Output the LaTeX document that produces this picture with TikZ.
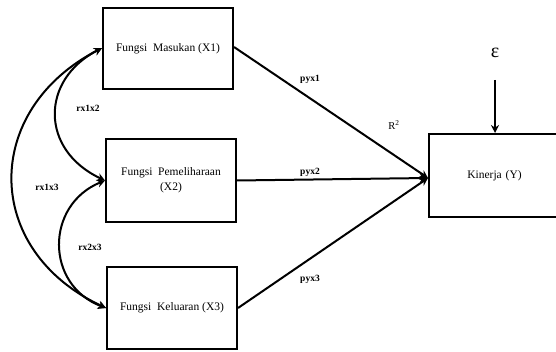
\documentclass[tikz,border=0pt]{standalone}
\usepackage{fontspec}
\setmainfont{Liberation Serif}
\usetikzlibrary{arrows.meta}
\begin{document}
\begin{tikzpicture}[x=1pt,y=-1pt,
  box/.style={draw,line width=2pt,inner sep=0pt,font=\fontsize{11.5}{15}\selectfont,align=center},
  lab/.style={font=\bfseries\fontsize{9.5}{11}\selectfont,inner sep=0pt},
  arr/.style={line width=2pt,-{Stealth[length=8pt,width=8pt]}},
  darr/.style={line width=2pt,{Stealth[length=8pt,width=8pt]}-{Stealth[length=8pt,width=8pt]}}]
\useasboundingbox (0,0) rectangle (556,352);
\node[box,minimum width=130pt,minimum height=81pt] (x1) at (168,48.5) {Fungsi~ Masukan (X1)};
\node[box,minimum width=130pt,minimum height=83pt] (x2) at (171,180.5) {Fungsi~ Pemeliharaan\\(X2)};
\node[box,minimum width=130pt,minimum height=82pt] (x3) at (172,308) {Fungsi~ Keluaran (X3)};
\node[box,minimum width=131pt,minimum height=83pt,text width=128pt] (y) at (494.5,175.5) {Kinerja (Y)\hspace*{3pt}};
\node[inner sep=0pt,font=\fontsize{20}{22}\selectfont] (eps) at (495,53) {ε};
\coordinate (epsA) at (495,80);
\coordinate (yin) at ([yshift=-2.5pt]y.west);
\coordinate (x1w) at ([yshift=0.5pt]x1.west);
\coordinate (x2w) at (x2.west);
\coordinate (x3w) at (x3.west);
\draw[arr] (epsA) -- (y.north -| epsA);
\draw[arr] ([yshift=1.5pt]x1.east) -- (yin);
\draw[arr] (x2.east) -- (yin);
\draw[arr] (x3.east) -- (yin);
\draw[darr] (x1w) .. controls (40,80) and (40,150) .. (x2w);
\draw[darr] (x1w) .. controls (-18,110) and (-18,250) .. (x3w);
\draw[darr] (x2w) .. controls (45,205) and (45,285) .. (x3w);
\node[lab] (l12) at (88,108) {rx1x2};
\node[lab] (l13) at (47,187) {rx1x3};
\node[lab] (l23) at (90,247) {rx2x3};
\node[lab] (p1) at (310,79) {pyx1};
\node[lab] (p2) at (310,172) {pyx2};
\node[lab] (p3) at (310,279) {pyx3};
\node[inner sep=0pt,font=\fontsize{10.5}{12}\selectfont] (r2) at (394,125) {R\textsuperscript{2}};
\end{tikzpicture}
\end{document}
